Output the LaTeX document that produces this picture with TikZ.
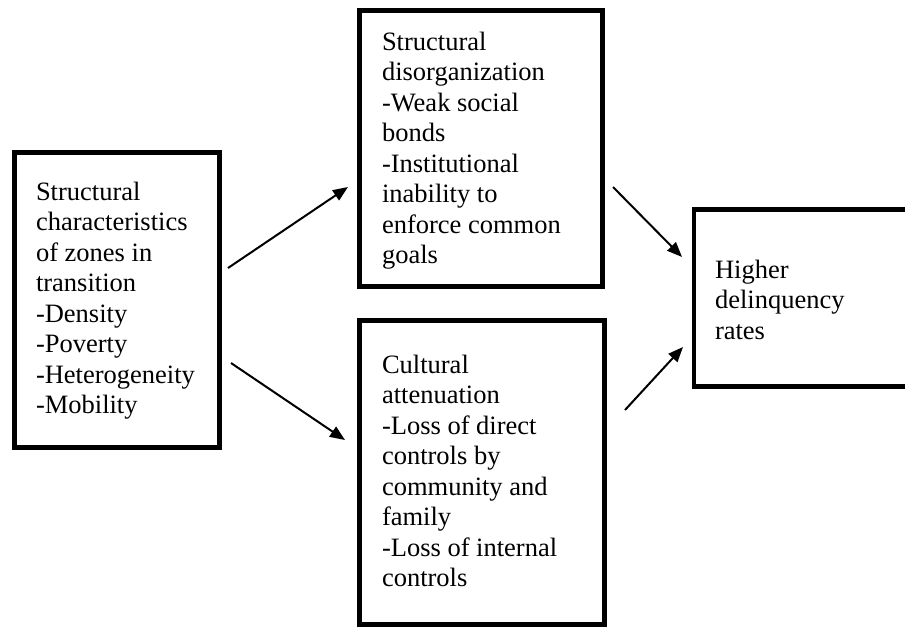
\documentclass[tikz,border=0pt]{standalone}
\usepackage{fontspec}
\setmainfont{Liberation Serif}
\usetikzlibrary{arrows.meta}
\tikzset{
  box/.style={draw=black, line width=4.8pt, fill=white, inner sep=0pt, outer sep=0pt},
  txt/.style={anchor=base west, inner sep=0pt, outer sep=0pt, font=\fontsize{26.5}{30.5}\selectfont},
  conn/.style={line width=2pt, -{Triangle[length=15pt,width=12pt]}},
}
\begin{document}
\begin{tikzpicture}[x=1pt,y=-1pt]
\clip (0,0) rectangle (905,627);
\fill[white] (0,0) rectangle (905,627);
% boxes
\node[box, minimum width=205pt, minimum height=295pt] (left) at (117,300) {};
\node[box, minimum width=243pt, minimum height=276pt] (top) at (481,148.5) {};
\node[box, minimum width=245pt, minimum height=304pt] (bottom) at (482,472.5) {};
\node[box, minimum width=236pt, minimum height=177pt] (right) at (812,298) {};
% texts
\node[txt] (lefttxt) at (36,200) {\begin{tabular}[t]{@{}l@{}}Structural\\characteristics\\of zones in\\transition\\-Density\\-Poverty\\-Heterogeneity\\-Mobility\end{tabular}};
\node[txt] (toptxt) at (382,50) {\begin{tabular}[t]{@{}l@{}}Structural\\disorganization\\-Weak social\\bonds\\-Institutional\\inability to\\enforce common\\goals\end{tabular}};
\node[txt] (bottomtxt) at (382,373) {\begin{tabular}[t]{@{}l@{}}Cultural\\attenuation\\-Loss of direct\\controls by\\community and\\family\\-Loss of internal\\controls\end{tabular}};
\node[txt] (righttxt) at (715,278) {\begin{tabular}[t]{@{}l@{}}Higher\\delinquency\\rates\end{tabular}};
% connector ends
\coordinate (a1s) at (228,268);
\coordinate (a1e) at (348,187);
\coordinate (a2s) at (231,363);
\coordinate (a2e) at (345,440);
\coordinate (a3s) at (613,187);
\coordinate (a3e) at (682,257);
\coordinate (a4s) at (625,410);
\coordinate (a4e) at (683,347);
\draw[conn] (a1s) -- (a1e);
\draw[conn] (a2s) -- (a2e);
\draw[conn] (a3s) -- (a3e);
\draw[conn] (a4s) -- (a4e);
\end{tikzpicture}
\end{document}
